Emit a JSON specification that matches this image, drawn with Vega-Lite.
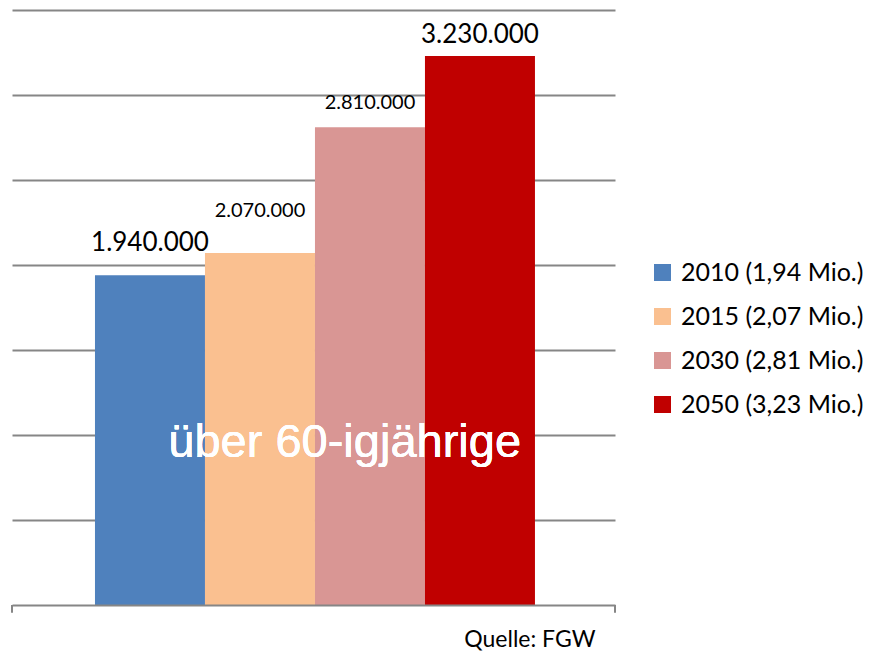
{
  "$schema": "https://vega.github.io/schema/vega-lite/v6.json",
  "autosize": "none",
  "width": 603,
  "height": 595,
  "padding": {"left": 12, "top": 10, "right": 254, "bottom": 48},
  "background": "white",
  "config": {
    "view": {"stroke": null},
    "locale": {"number": {"decimal": ",", "thousands": ".", "grouping": [3], "currency": ["", " €"]}},
    "font": "Lato"
  },
  "datasets": {
    "main": [
      {"year": "2010", "label": "2010 (1,94 Mio.)", "value": 1940000},
      {"year": "2015", "label": "2015 (2,07 Mio.)", "value": 2070000},
      {"year": "2030", "label": "2030 (2,81 Mio.)", "value": 2810000},
      {"year": "2050", "label": "2050 (3,23 Mio.)", "value": 3230000}
    ],
    "ends": [{"p": 0}, {"p": 1}]
  },
  "layer": [
    {
      "data": {"name": "main"},
      "encoding": {
        "x": {
          "field": "year", "type": "nominal",
          "scale": {"paddingInner": 0, "paddingOuter": 0.741, "align": 0.509},
          "axis": {
            "labels": false, "ticks": false, "domain": true,
            "domainColor": "#868686", "domainWidth": 2, "zindex": 1,
            "title": "Quelle: FGW", "titleFont": "Lato", "titleFontSize": 23,
            "titleFontWeight": "normal", "titleColor": "#000000",
            "titleAlign": "right", "titleAnchor": "end", "titleX": 583, "titleY": 41,
            "titleBaseline": "alphabetic"
          }
        },
        "y": {
          "field": "value", "type": "quantitative",
          "scale": {"domain": [0, 3500000], "nice": false},
          "axis": {
            "values": [500000, 1000000, 1500000, 2000000, 2500000, 3000000, 3500000],
            "labels": false, "ticks": false, "domain": false, "title": null,
            "grid": true, "gridColor": "#868686", "gridWidth": 2
          }
        }
      },
      "layer": [
        {
          "mark": {"type": "bar", "stroke": null},
          "encoding": {
            "color": {
              "field": "label", "type": "nominal",
              "scale": {
                "domain": ["2010 (1,94 Mio.)", "2015 (2,07 Mio.)", "2030 (2,81 Mio.)", "2050 (3,23 Mio.)"],
                "range": ["#4F81BD", "#FAC090", "#D99694", "#C00000"]
              },
              "legend": {
                "title": null, "orient": "none", "legendX": 638, "legendY": 250,
                "symbolType": "square", "symbolSize": 289, "symbolStrokeWidth": 0,
                "labelFont": "Lato", "labelFontSize": 25, "labelColor": "#000000",
                "labelOffset": 6, "rowPadding": 18, "labelLimit": 300
              }
            }
          }
        },
        {
          "transform": [{"filter": "datum.year == '2010'"}],
          "mark": {"type": "text", "baseline": "alphabetic", "dy": -24, "fontSize": 26, "font": "Lato", "color": "#000000"},
          "encoding": {"text": {"field": "value", "type": "quantitative", "format": ",d"}}
        },
        {
          "transform": [{"filter": "datum.year == '2015'"}],
          "mark": {"type": "text", "baseline": "alphabetic", "dy": -36, "fontSize": 20, "font": "Lato", "color": "#000000"},
          "encoding": {"text": {"field": "value", "type": "quantitative", "format": ",d"}}
        },
        {
          "transform": [{"filter": "datum.year == '2030'"}],
          "mark": {"type": "text", "baseline": "alphabetic", "dy": -18, "fontSize": 20, "font": "Lato", "color": "#000000"},
          "encoding": {"text": {"field": "value", "type": "quantitative", "format": ",d"}}
        },
        {
          "transform": [{"filter": "datum.year == '2050'"}],
          "mark": {"type": "text", "baseline": "alphabetic", "dy": -13, "fontSize": 26, "font": "Lato", "color": "#000000"},
          "encoding": {"text": {"field": "value", "type": "quantitative", "format": ",d"}}
        },
        {
          "mark": {"type": "text", "font": "Liberation Sans", "fontSize": 47, "color": "#FFFFFF", "baseline": "alphabetic", "align": "center"},
          "encoding": {
            "x": {"datum": "2030", "bandPosition": 0.27},
            "y": {"datum": 870000},
            "text": {"value": "über 60-igjährige"}
          }
        }
      ]
    },
    {
      "data": {"name": "ends"},
      "mark": {"type": "rule", "color": "#868686", "strokeWidth": 2},
      "encoding": {
        "x": {"field": "p", "type": "quantitative", "scale": {"domain": [0, 1], "nice": false}, "axis": null},
        "y": {"datum": 0, "type": "quantitative"},
        "y2": {"datum": -45000}
      }
    }
  ],
  "resolve": {"scale": {"x": "independent"}}
}
